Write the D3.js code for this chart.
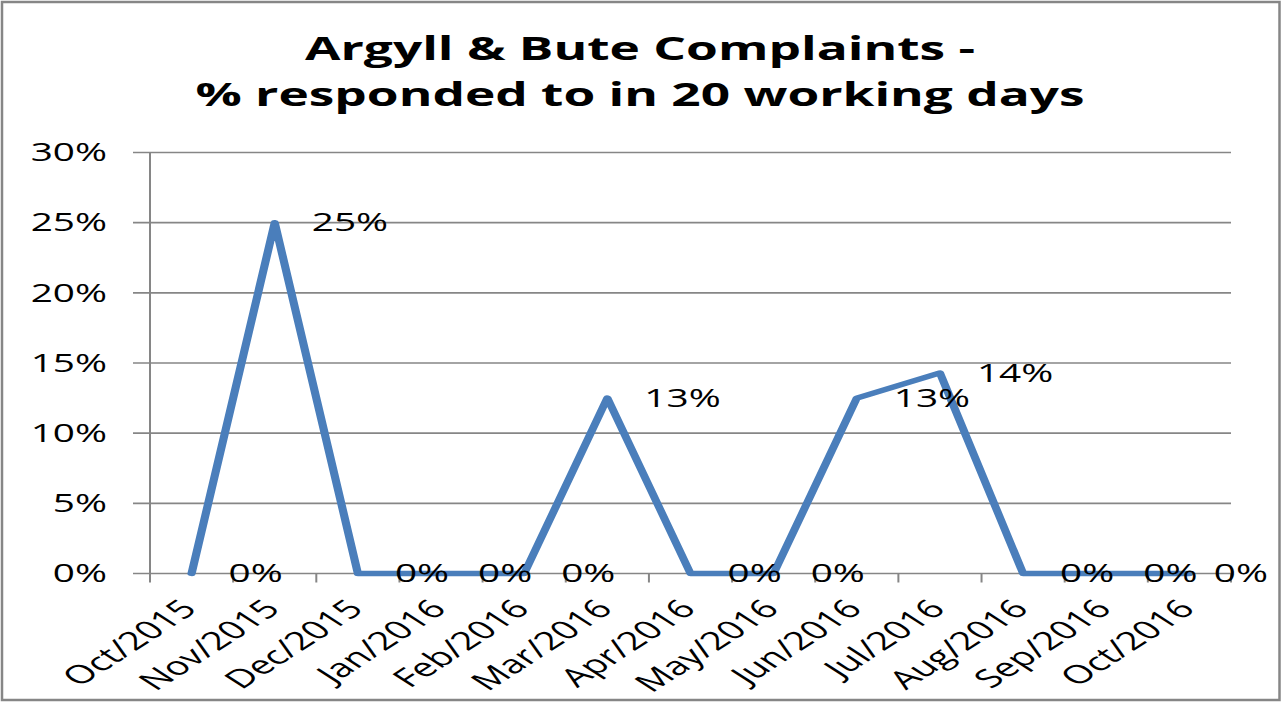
<!DOCTYPE html>
<html>
<head>
<meta charset="utf-8">
<script src="https://cdn.jsdelivr.net/npm/d3@7"></script>
<style>
  html, body { margin: 0; padding: 0; background: #fff; }
  svg { display: block; }
</style>
</head>
<body>
<svg id="chart" width="1282" height="702"></svg>
<script>
// ---- data ----
const categories = ["Oct/2015","Nov/2015","Dec/2015","Jan/2016","Feb/2016","Mar/2016","Apr/2016","May/2016","Jun/2016","Jul/2016","Aug/2016","Sep/2016","Oct/2016"];
const values = [0, 0.25, 0, 0, 0, 0.125, 0, 0, 0.125, 0.1429, 0, 0, 0];
const yTicks = [0, 0.05, 0.10, 0.15, 0.20, 0.25, 0.30];
const titleLines = ["Argyll & Bute Complaints -", "% responded to in 20 working days"];

// ---- layout ----
const W = 1282, H = 702;
const plot = { left: 150, right: 1231, top: 152.5, bottom: 573.5 };
const sx = 1.55;               // horizontal stretch seen in the reference
const fontFam = "'Open Sans', 'Liberation Sans', sans-serif";
const gridColor = "#868686";
const lineColor = "#4A7EBB";

const svg = d3.select("#chart");
svg.append("rect").attr("x", 0).attr("y", 0).attr("width", W).attr("height", H).attr("fill", "#fff");
// chart border
svg.append("rect").attr("x", 2).attr("y", 2).attr("width", W - 4.5).attr("height", H - 4)
  .attr("fill", "none").attr("stroke", gridColor).attr("stroke-width", 2.5);

const x = d3.scaleBand().domain(categories).range([plot.left, plot.right]).padding(0);
const y = d3.scaleLinear().domain([0, 0.30]).range([plot.bottom, plot.top]);
const fmt = d3.format(".0%");

// title
const titleG = svg.append("g");
const titleSpecs = [{ y: 60, len: 670 }, { y: 106, len: 889 }];
titleLines.forEach((t, i) => {
  titleG.append("text")
    .attr("x", 640).attr("y", titleSpecs[i].y)
    .attr("text-anchor", "middle")
    .attr("font-family", fontFam).attr("font-weight", 700).attr("font-size", 32)
    .attr("textLength", titleSpecs[i].len).attr("lengthAdjust", "spacingAndGlyphs")
    .attr("fill", "#000")
    .text(t);
});

// gridlines (with left tick extension)
svg.append("g").selectAll("line").data(yTicks).join("line")
  .attr("x1", plot.left - 17).attr("x2", plot.right)
  .attr("y1", d => y(d)).attr("y2", d => y(d))
  .attr("stroke", gridColor).attr("stroke-width", 1.6);

// y axis line
svg.append("line").attr("x1", plot.left).attr("x2", plot.left)
  .attr("y1", y(0.30)).attr("y2", y(0))
  .attr("stroke", gridColor).attr("stroke-width", 2);

// x tick marks at band boundaries
const boundaries = categories.map(c => x(c)).concat([x(categories[categories.length - 1]) + x.bandwidth()]);
svg.append("g").selectAll("line").data(boundaries).join("line")
  .attr("x1", d => d).attr("x2", d => d)
  .attr("y1", y(0)).attr("y2", y(0) + 9)
  .attr("stroke", gridColor).attr("stroke-width", 2);

// y tick labels
svg.append("g").selectAll("text").data(yTicks).join("text")
  .attr("transform", d => `translate(107,${y(d)}) scale(${sx},1)`)
  .attr("dy", "0.35em")
  .attr("text-anchor", "end")
  .attr("font-family", fontFam).attr("font-size", 25).attr("fill", "#000")
  .text(d => fmt(d));

// x category labels (rotated -45 then stretched)
svg.append("g").selectAll("text").data(categories).join("text")
  .attr("transform", d => `translate(${x(d) + x.bandwidth() / 2 + 7},${y(0) + 37}) scale(${sx},1) rotate(-45)`)
  .attr("text-anchor", "end")
  .attr("font-family", fontFam).attr("font-size", 25.5).attr("fill", "#000")
  .text(d => d);

// data line (drawn in a horizontally stretched group, like the reference)
const cx = (d, i) => x(categories[i]) + x.bandwidth() / 2;
const line = d3.line().x((d, i) => cx(d, i) / sx).y(d => y(d));
svg.append("g").attr("transform", `scale(${sx},1)`)
  .append("path").datum(values)
  .attr("d", line)
  .attr("fill", "none").attr("stroke", lineColor).attr("stroke-width", 5.3)
  .attr("stroke-linejoin", "round").attr("stroke-linecap", "round");

// data labels (right of points)
const labelG = svg.append("g");
values.forEach((v, i) => {
  const t = labelG.append("text")
    .attr("dy", "0.35em")
    .attr("font-family", fontFam).attr("font-size", 25).attr("fill", "#000")
    .text(fmt(v));
  const w = t.node().getComputedTextLength() * sx;
  let lx = cx(v, i) + 37;
  if (lx + w > W - 14) lx = W - 14 - w;
  t.attr("transform", `translate(${lx},${y(v)}) scale(${sx},1)`);
});
</script>
</body>
</html>
